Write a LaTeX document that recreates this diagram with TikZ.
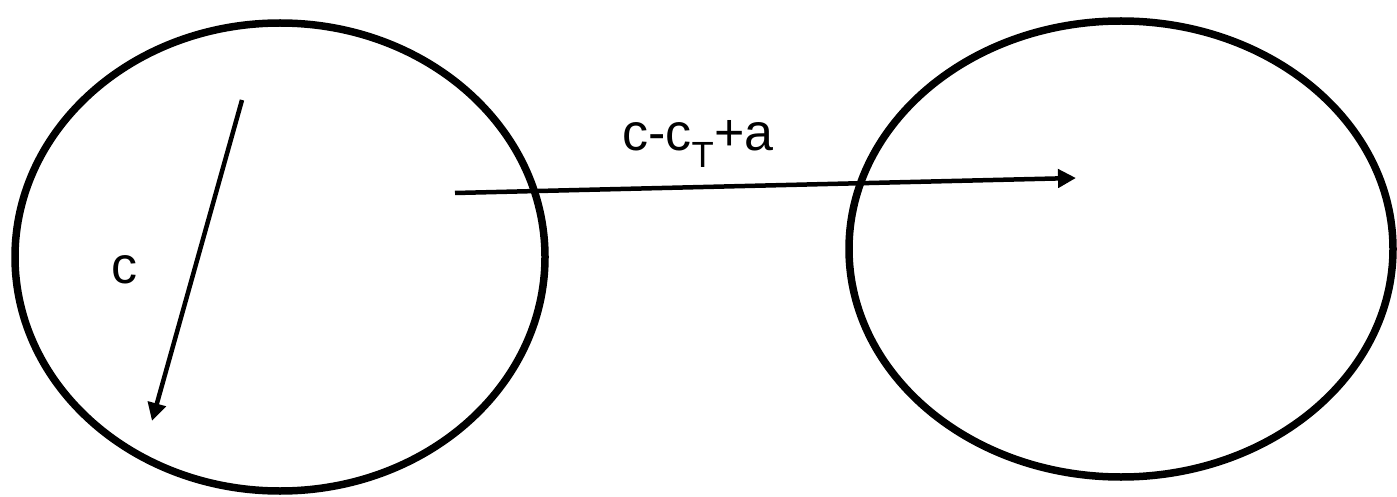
\documentclass[tikz,border=0pt]{standalone}
\usepackage{fontspec}
\setmainfont{Liberation Sans}
\usetikzlibrary{shapes.geometric,arrows.meta}
\begin{document}
\begin{tikzpicture}[x=1pt,y=-1pt,
  blob/.style={draw=black,line width=7.5pt,ellipse,inner sep=0pt},
  vec/.style={draw=black,line width=4.5pt,-{Triangle[length=18pt,width=18pt]}},
  lbl/.style={font=\fontsize{52}{60}\selectfont,inner sep=0pt}]
\useasboundingbox (0,0) rectangle (1397,497);
\node[blob,minimum width=530pt,minimum height=468pt] (L) at (280,257) {};
\node[blob,minimum width=544pt,minimum height=456pt] (R) at (1121,249) {};
\coordinate (a1) at (242,100);
\coordinate (a2) at (152,421);
\coordinate (b1) at (455,193);
\coordinate (b2) at (1076,178);
\draw[vec] (a1) -- (a2);
\draw[vec] (b1) -- (b2);
\node[lbl] (lc) at (124,270) {c};
\node[lbl,anchor=base] (lt) at (698,151) {c-c\textsubscript{T}+a};
\end{tikzpicture}
\end{document}
